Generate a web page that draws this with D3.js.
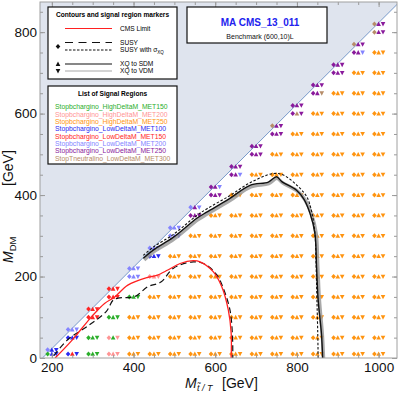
<!DOCTYPE html>
<html>
<head>
<meta charset="utf-8">
<script src="https://cdn.jsdelivr.net/npm/d3@7"></script>
<style>
body { margin: 0; background: #fff; }
svg { display: block; font-family: "Liberation Sans", Arial, sans-serif; }
</style>
</head>
<body>
<svg id="chart" width="399" height="393"></svg>
<script>
// ---- data ----
const stopMass = [200, 250, 300, 350, 400, 450, 500, 550, 600, 650, 700, 750, 800, 850, 900, 950, 1000];

// DM masses of the signal points, one list per stop mass (bottom to top)
const dmMass = [
    [10, 20],
    [10, 50, 70],
    [10, 50, 100, 120],
    [10, 50, 100, 150, 170],
    [10, 50, 100, 150, 200, 220],
    [10, 50, 100, 150, 200, 250, 270],
    [10, 50, 100, 150, 200, 250, 300, 320],
    [10, 50, 100, 150, 200, 250, 300, 350, 370],
    [10, 50, 100, 150, 200, 250, 300, 350, 400, 420],
    [10, 50, 100, 150, 200, 250, 300, 350, 400, 450, 470],
    [10, 50, 100, 150, 200, 250, 300, 350, 400, 450, 500, 520],
    [10, 50, 100, 150, 200, 250, 300, 350, 400, 450, 500, 550, 570],
    [10, 50, 100, 150, 200, 250, 300, 350, 400, 450, 500, 550, 600, 620],
    [10, 50, 100, 150, 200, 250, 300, 350, 400, 450, 500, 550, 600, 650, 670],
    [10, 50, 100, 150, 200, 250, 300, 350, 400, 450, 500, 550, 600, 650, 700, 720],
    [10, 50, 100, 150, 200, 250, 300, 350, 400, 450, 500, 550, 600, 650, 700, 750, 770],
    [10, 50, 100, 150, 200, 250, 300, 350, 400, 450, 500, 550, 600, 650, 700, 750, 800, 820]
];

// best signal region per point: [SUSY diamond, XQ->SDM up, XQ->VDM down]
const regionCodes = [
    ["GBB", "LBB"],
    ["BRB", "BBB", "LLL"],
    ["GGG", "GGG", "RRR", "RRR"],
    ["PPP", "PGP", "GGG", "RRR", "RRR"],
    ["OOO", "OOO", "OOO", "GGG", "LLL", "LLL"],
    ["OOO", "OOO", "OOO", "OOO", "PPP", "BBB", "LLL"],
    ["OOO", "OOO", "OOO", "OOO", "OOO", "OOO", "LLB", "LLL"],
    ["OOO", "OOO", "OOO", "OOO", "OOO", "OOO", "OOO", "VVV", "LVL"],
    ["OOO", "OOO", "OOO", "OOO", "OOO", "OOO", "OOO", "OOO", "VVV", "VVL"],
    ["OOO", "OOO", "OOO", "OOO", "OOO", "OOO", "OOO", "OOO", "OOO", "VVL", "VVV"],
    ["OOO", "OOO", "OOO", "OOO", "OOO", "OOO", "OOO", "OOO", "OOO", "OOO", "VVV", "VVV"],
    ["OOO", "OOO", "OOO", "OOO", "OOO", "OOO", "OOO", "OOO", "OOO", "OOO", "OOO", "VVV", "TVV"],
    ["OOO", "OOO", "OOO", "OOO", "OOO", "OOO", "OOO", "OOO", "OOO", "OOO", "OOO", "OOO", "VTV", "VVV"],
    ["OOO", "OOO", "OOO", "OOO", "OOO", "OOO", "OOO", "OOO", "OOO", "OOO", "OOO", "OOO", "OOO", "VVT", "VVV"],
    ["OOO", "OOO", "OOO", "OOO", "OOO", "OOO", "OOO", "OOO", "OOO", "OOO", "OOO", "OOO", "OOO", "OOO", "VVV", "VVV"],
    ["OOO", "OOO", "OOO", "OOO", "OOO", "OOO", "OOO", "OOO", "OOO", "OOO", "OOO", "OOO", "OOO", "OOO", "OOO", "VVL", "TVV"],
    ["OOO", "OOO", "OOO", "OOO", "OOO", "OOO", "OOO", "OOO", "OOO", "OOO", "OOO", "OOO", "OOO", "OOO", "OOO", "OOO", "TVV", "TVV"]
];

const regionKeys = ["G", "P", "O", "B", "R", "L", "V", "T"];
const regionNames = [
    "Stopbchargino_HighDeltaM_MET150",
    "Stopbchargino_HighDeltaM_MET200",
    "Stopbchargino_HighDeltaM_MET250",
    "Stopbchargino_LowDeltaM_MET100",
    "Stopbchargino_LowDeltaM_MET150",
    "Stopbchargino_LowDeltaM_MET200",
    "Stopbchargino_LowDeltaM_MET250",
    "StopTneutralino_LowDeltaM_MET300"
];
const regionColors = ["#2aae2a", "#ff9494", "#ff9410", "#2a2af2", "#ff2424", "#8484ff", "#8a1a9c", "#b68c68"];

// contours [M_T, M_DM]
const cmsLimit = [[208, 0], [248, 42], [297, 101], [329, 134], [354, 150], [386, 179], [435, 198], [457, 203],
    [484, 216], [514, 232], [546, 239], [563, 236], [595, 212], [616, 175], [632, 118], [639, 61], [639, 0]];
const susyLimit = [[205, 6], [240, 46], [289, 79], [333, 114], [350, 142], [362, 147], [403, 151], [435, 175],
    [468, 187], [497, 220], [546, 236], [575, 230], [604, 204], [622, 165], [636, 118], [642, 60], [643, 0]];
const susyXQLimit = [[424, 252], [448, 272], [497, 303], [555, 350], [579, 366], [633, 397], [685, 430], [742, 453],
    [767, 449], [800, 424], [824, 396], [836, 360], [844, 306], [847, 224], [849, 142], [851, 60], [852, 0]];
const xqSDM = [[424, 245], [448, 265], [497, 296], [555, 343], [579, 358], [633, 390], [685, 424], [730, 432],
    [750, 445], [763, 433], [799, 412], [817, 390], [832, 355], [844, 306], [848, 224], [852, 142], [860, 60], [863, 0]];
const xqVDM = [[426, 241], [450, 261], [499, 292], [557, 339], [581, 354], [635, 386], [687, 420], [731, 428],
    [751, 441], [765, 430], [802, 409], [820, 388], [835, 355], [847, 306], [851, 224], [855, 142], [862, 60], [865, 0]];

const xTicks = [200, 400, 600, 800, 1000];
const yTicks = [0, 200, 400, 600, 800];
const diagOffset = 177;   // kinematic edge M_DM = M_T - 177

// ---- layout ----
const width = 399;
const height = 393;
const marginLeft = 40;
const marginRight = 2;
const marginTop = 2;
const marginBottom = 35;

const svg = d3.select("#chart");

const xscale = d3.scaleLinear()
    .domain([171, 1045])
    .range([marginLeft, width - marginRight]);
const yscale = d3.scaleLinear()
    .domain([0, 874])
    .range([height - marginBottom, marginTop]);

svg.append("clipPath").attr("id", "plotclip")
    .append("rect")
    .attr("x", marginLeft).attr("y", marginTop)
    .attr("width", width - marginRight - marginLeft)
    .attr("height", height - marginBottom - marginTop);

const plot = svg.append("g").attr("clip-path", "url(#plotclip)");

// excluded region above the diagonal
const xd = xscale.domain(), yd = yscale.domain();
const shade = [[xd[0], yd[0]], [diagOffset, 0], [yd[1] + diagOffset, yd[1]], [xd[0], yd[1]]];
plot.append("path")
    .attr("d", d3.line().x(d => xscale(d[0])).y(d => yscale(d[1]))(shade))
    .style("fill", "#dfe4ee");
plot.append("line")
    .attr("x1", xscale(diagOffset)).attr("y1", yscale(0))
    .attr("x2", xscale(yd[1] + diagOffset)).attr("y2", yscale(yd[1]))
    .style("stroke", "#6b90c4")
    .style("stroke-width", 0.9);

// signal points: three small glyphs per point
const points = [];
stopMass.forEach((m, i) => {
    dmMass[i].forEach((dm, j) => points.push({mt: m, dm: dm, code: regionCodes[i][j]}));
});
const colorOf = c => regionColors[regionKeys.indexOf(c)];
const diamond = "M0,-2.5L2.3,0L0,2.5L-2.3,0Z";
const upTri = "M0,-2.4L2.3,1.9L-2.3,1.9Z";
const downTri = "M-2.3,-1.9L2.3,-1.9L0,2.4Z";

const marks = plot.append("g").selectAll("g")
    .data(points)
    .join("g")
    .attr("transform", d => `translate(${xscale(d.mt)},${yscale(d.dm)})`);
marks.append("path").attr("d", diamond).attr("transform", "translate(-4.2,0)")
    .style("fill", d => colorOf(d.code[0]));
marks.append("path").attr("d", upTri)
    .style("fill", d => colorOf(d.code[1]));
marks.append("path").attr("d", downTri).attr("transform", "translate(4.4,0)")
    .style("fill", d => colorOf(d.code[2]));

// contours
const line = d3.line()
    .x(d => xscale(d[0]))
    .y(d => yscale(d[1]))
    .curve(d3.curveCatmullRom.alpha(0.5));

plot.append("path").attr("d", line(xqVDM))
    .style("fill", "none").style("stroke", "#9a9a9a").style("stroke-width", 3.5).style("opacity", 0.85);
plot.append("path").attr("d", line(xqSDM))
    .style("fill", "none").style("stroke", "#111").style("stroke-width", 1.4);
plot.append("path").attr("d", line(susyXQLimit))
    .style("fill", "none").style("stroke", "#111").style("stroke-width", 1.1)
    .style("stroke-dasharray", "2.5,1.8");
plot.append("path").attr("d", line(susyLimit))
    .style("fill", "none").style("stroke", "#111").style("stroke-width", 1.2)
    .style("stroke-dasharray", "6,3.5");
plot.append("path").attr("d", line(cmsLimit))
    .style("fill", "none").style("stroke", "#ff2020").style("stroke-width", 1.3);

// frame and ticks (inward, mirrored on all sides)
const axes = svg.append("g");
const yBottom = yscale(0), yTop = yscale(yd[1]);
const xMinor = d3.range(200, 1001, 50);
const yMinor = d3.range(0, 851, 50);

axes.append("g").attr("transform", `translate(0,${yBottom})`)
    .call(d3.axisBottom(xscale).tickValues(xTicks).tickFormat(d3.format("d")).tickSize(-5).tickPadding(4))
    .attr("font-size", 13.5);
axes.append("g").attr("transform", `translate(0,${yBottom})`)
    .call(d3.axisBottom(xscale).tickValues(xMinor).tickSize(-3).tickFormat(""));
axes.append("g").attr("transform", `translate(0,${yTop})`)
    .call(d3.axisTop(xscale).tickValues(xTicks).tickSize(-5).tickFormat(""));
axes.append("g").attr("transform", `translate(0,${yTop})`)
    .call(d3.axisTop(xscale).tickValues(xMinor).tickSize(-3).tickFormat(""));

axes.append("g").attr("transform", `translate(${marginLeft},0)`)
    .call(d3.axisLeft(yscale).tickValues(yTicks).tickFormat(d3.format("d")).tickSize(-5).tickPadding(3))
    .attr("font-size", 13.5);
axes.append("g").attr("transform", `translate(${marginLeft},0)`)
    .call(d3.axisLeft(yscale).tickValues(yMinor).tickSize(-3).tickFormat(""));
axes.append("g").attr("transform", `translate(${width - marginRight},0)`)
    .call(d3.axisRight(yscale).tickValues(yTicks).tickSize(-5).tickFormat(""));
axes.append("g").attr("transform", `translate(${width - marginRight},0)`)
    .call(d3.axisRight(yscale).tickValues(yMinor).tickSize(-3).tickFormat(""));

axes.selectAll(".domain").remove();
axes.selectAll(".tick line").style("stroke", "#9a9a9a");
axes.selectAll(".tick text").style("fill", "#111").attr("font-family", "Liberation Sans, Arial, sans-serif");

axes.append("rect")
    .attr("x", marginLeft).attr("y", marginTop)
    .attr("width", width - marginRight - marginLeft)
    .attr("height", height - marginBottom - marginTop)
    .style("fill", "none").style("stroke", "#a0a0a0").style("stroke-width", 1);

// axis titles
const xt = svg.append("text").attr("y", 388).attr("font-size", 14).attr("fill", "#111");
xt.append("tspan").attr("x", 185).attr("font-style", "italic").text("M");
xt.append("tspan").attr("x", 197).attr("dy", 3).attr("font-size", 9).attr("font-style", "italic").text("t\u0303 / T");
xt.append("tspan").attr("x", 222).attr("dy", -3).text("[GeV]");

const yt = svg.append("g").attr("transform", "translate(13,0) rotate(-90)")
    .append("text").attr("font-size", 14).attr("fill", "#111");
yt.append("tspan").attr("x", -263).attr("font-style", "italic").text("M");
yt.append("tspan").attr("dy", 3).attr("font-size", 9.5).text("DM");
yt.append("tspan").attr("x", -186).attr("dy", -3).text("[GeV]");

// legend: contours and markers
const leg = svg.append("g");
leg.append("rect").attr("x", 48).attr("y", 7).attr("width", 129).attr("height", 72)
    .style("fill", "#fff").style("stroke", "#111").style("stroke-width", 1.2);
leg.append("text").attr("x", 112.5).attr("y", 17).attr("text-anchor", "middle")
    .attr("font-size", 6.6).attr("font-weight", "bold").text("Contours and signal region markers");

const legLines = [
    {y: 28.5, stroke: "#ff2020", dash: null, label: "CMS Limit"},
    {y: 42.5, stroke: "#111", dash: "8,5.5", label: "SUSY"},
    {y: 50, stroke: "#111", dash: "2.5,1.5", label: "SUSY with \u03c3"},
    {y: 64, stroke: "#111", dash: null, label: "XQ to SDM"},
    {y: 71, stroke: "#a8a8a8", dash: null, label: "XQ to VDM"}
];
legLines.forEach(l => {
    leg.append("line").attr("x1", 65).attr("x2", 112).attr("y1", l.y).attr("y2", l.y)
        .style("stroke", l.stroke).style("stroke-width", 1.2)
        .style("stroke-dasharray", l.dash);
    const t = leg.append("text").attr("x", 120).attr("y", l.y + 2.4).attr("font-size", 6.6).text(l.label);
    if (l.label.startsWith("SUSY with")) {
        t.append("tspan").attr("dy", 1.5).attr("font-size", 4.5).text("XQ");
    }
});
leg.append("path").attr("d", diamond).attr("transform", "translate(58,46.5)").style("fill", "#111");
leg.append("path").attr("d", upTri).attr("transform", "translate(58,64)").style("fill", "#111");
leg.append("path").attr("d", downTri).attr("transform", "translate(58,71)").style("fill", "#111");

// legend: signal regions
leg.append("rect").attr("x", 48).attr("y", 86).attr("width", 129).attr("height", 78)
    .style("fill", "#fff").style("stroke", "#111").style("stroke-width", 1.2);
leg.append("text").attr("x", 112.5).attr("y", 96).attr("text-anchor", "middle")
    .attr("font-size", 6.6).attr("font-weight", "bold").text("List of Signal Regions");
leg.selectAll("text.sr")
    .data(regionNames)
    .join("text")
    .attr("class", "sr")
    .attr("x", 55)
    .attr("y", (d, i) => 109.4 + i * 7.3)
    .attr("font-size", 6.8)
    .style("fill", (d, i) => regionColors[i])
    .text(d => d);

// title box
const tb = svg.append("g");
tb.append("rect").attr("x", 187).attr("y", 7).attr("width", 140).attr("height", 36)
    .style("fill", "#fff").style("stroke", "#111").style("stroke-width", 1.2);
tb.append("text").attr("x", 260).attr("y", 26).attr("text-anchor", "middle")
    .attr("font-size", 10).attr("font-weight", "bold").style("fill", "#2222ee").text("MA CMS_13_011");
tb.append("text").attr("x", 260).attr("y", 38.5).attr("text-anchor", "middle")
    .attr("font-size", 7).style("fill", "#111").text("Benchmark (600,10)L");
</script>
</body>
</html>
